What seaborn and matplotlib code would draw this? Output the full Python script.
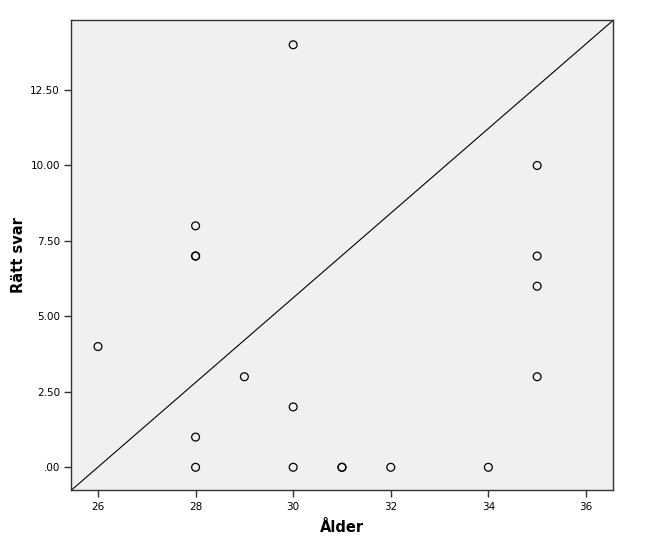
import matplotlib
matplotlib.use("Agg")
import matplotlib.pyplot as plt
import seaborn as sns
import pandas as pd

# Ålder vs Rätt svar (duplicates kept, they show as bolder rings)
alder = [26, 28, 28, 28, 28, 28, 29, 30, 30, 30, 31, 31, 32, 34, 35, 35, 35, 35]
ratt_svar = [4, 8, 7, 7, 1, 0, 3, 14, 2, 0, 0, 0, 0, 0, 10, 7, 6, 3]
x_ticks = [26, 28, 30, 32, 34, 36]
y_ticks = [0, 2.5, 5, 7.5, 10, 12.5]
y_tick_labels = [".00", "2.50", "5.00", "7.50", "10.00", "12.50"]

df = pd.DataFrame({"Ålder": alder, "Rätt svar": ratt_svar})

sns.set_style("ticks")
plt.rcParams["font.family"] = ["DejaVu Sans"]

fig = plt.figure(figsize=(6.55, 5.5), dpi=100)
ax = fig.add_axes([0.1084, 0.1082, 0.8282, 0.8554])
ax.set_facecolor("#f0f0f0")

sns.scatterplot(data=df, x="Ålder", y="Rätt svar", ax=ax,
                marker="o", s=32, facecolor="none", edgecolor="black", linewidth=0.9)

# diagonal reference line across the plot area
ax.plot([0, 1], [0, 1], transform=ax.transAxes, color="black", linewidth=0.8)

ax.set_xlim(25.447, 36.564)
ax.set_ylim(-0.769, 14.82)
ax.set_xticks(x_ticks)
ax.set_yticks(y_ticks)
ax.set_yticklabels(y_tick_labels)
ax.tick_params(labelsize=7.5, length=5, width=1, color="#333333", labelcolor="black",
               direction="out", pad=3)

for sp in ax.spines.values():
    sp.set_visible(True)
    sp.set_color("#333333")
    sp.set_linewidth(1.0)

ax.set_xlabel("Ålder", fontsize=10.5, fontweight="bold", labelpad=6, color="black")
ax.set_ylabel("Rätt svar", fontsize=10.5, fontweight="bold", labelpad=3, color="black")

fig.savefig("out.png", dpi=100)
